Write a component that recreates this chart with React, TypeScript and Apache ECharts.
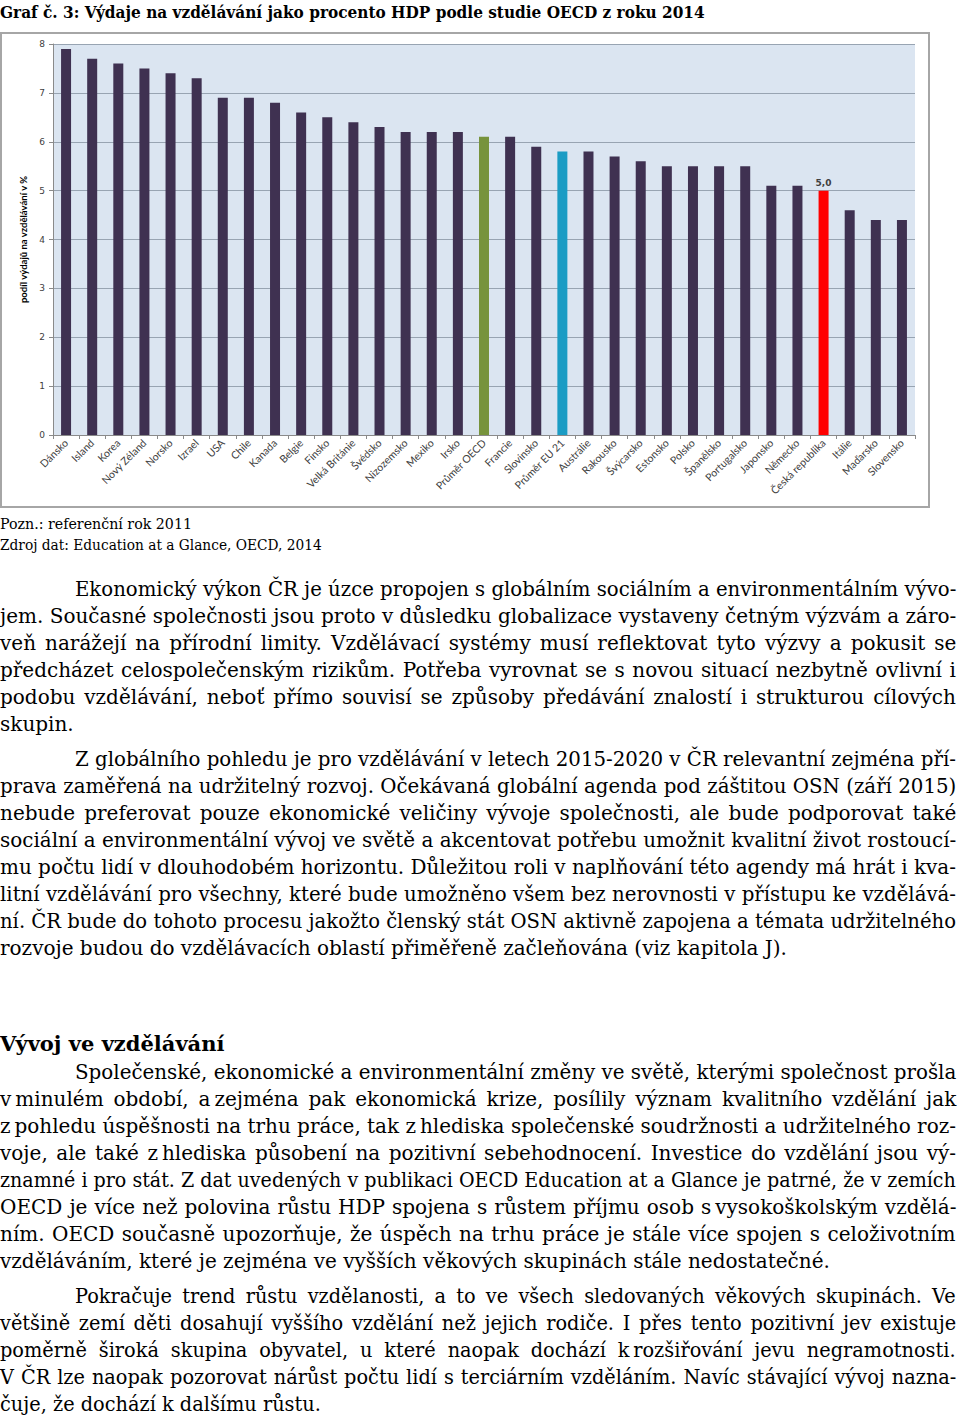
import React, { useEffect, useLayoutEffect, useRef } from "react";
import * as echarts from "echarts";

// ---------- data ----------
const categories = [
  "Dánsko", "Island", "Korea", "Nový Zéland", "Norsko", "Izrael", "USA", "Chile",
  "Kanada", "Belgie", "Finsko", "Velká Británie", "Švédsko", "Nizozemsko", "Mexiko",
  "Irsko", "Průměr OECD", "Francie", "Slovinsko", "Průměr EU 21", "Austrálie",
  "Rakousko", "Švýcarsko", "Estonsko", "Polsko", "Španělsko", "Portugalsko",
  "Japonsko", "Německo", "Česká republika", "Itálie", "Maďarsko", "Slovensko",
];
const values = [
  7.9, 7.7, 7.6, 7.5, 7.4, 7.3, 6.9, 6.9, 6.8, 6.6, 6.5, 6.4, 6.3, 6.2, 6.2,
  6.2, 6.1, 6.1, 5.9, 5.8, 5.8, 5.7, 5.6, 5.5, 5.5, 5.5, 5.5, 5.1, 5.1, 5.0,
  4.6, 4.4, 4.4,
];
const yMin = 0;
const yMax = 8;
const yStep = 1;
const yAxisTitle = "podíl výdajů na vzdělávání v %";
const labelledCategory = "Česká republika";
const highlightColors: Record<string, string> = {
  "Průměr OECD": "#77933c",
  "Průměr EU 21": "#1b9cc4",
  "Česká republika": "#ff0000",
};
const baseColor = "#3f3151";

const titleText = "Graf č. 3: Výdaje na vzdělávání jako procento HDP podle studie OECD z roku 2014";
const note1 = "Pozn.: referenční rok 2011";
const note2 = "Zdroj dat: Education at a Glance, OECD, 2014";

const T = "\u2009"; // thin fixed space
const para1 = [
  "Ekonomický výkon ČR je úzce propojen s globálním sociálním a environmentálním vývo-",
  "jem. Současné společnosti jsou proto v důsledku globalizace vystaveny četným výzvám a záro-",
  "veň narážejí na přírodní limity. Vzdělávací systémy musí reflektovat tyto výzvy a pokusit se",
  "předcházet celospolečenským rizikům. Potřeba vyrovnat se s novou situací nezbytně ovlivní i",
  "podobu vzdělávání, neboť přímo souvisí se způsoby předávání znalostí i strukturou cílových",
  "skupin.",
];
const para2 = [
  "Z globálního pohledu je pro vzdělávání v letech 2015-2020 v ČR relevantní zejména pří-",
  "prava zaměřená na udržitelný rozvoj. Očekávaná globální agenda pod záštitou OSN (září 2015)",
  "nebude preferovat pouze ekonomické veličiny vývoje společnosti, ale bude podporovat také",
  "sociální a environmentální vývoj ve světě a akcentovat potřebu umožnit kvalitní život rostoucí-",
  "mu počtu lidí v dlouhodobém horizontu. Důležitou roli v naplňování této agendy má hrát i kva-",
  "litní vzdělávání pro všechny, které bude umožněno všem bez nerovnosti v přístupu ke vzdělává-",
  "ní. ČR bude do tohoto procesu jakožto členský stát OSN aktivně zapojena a témata udržitelného",
  "rozvoje budou do vzdělávacích oblastí přiměřeně začleňována (viz kapitola J).",
];
const heading = "Vývoj ve vzdělávání";
const para3 = [
  "Společenské, ekonomické a environmentální změny ve světě, kterými společnost prošla",
  `v${T}minulém období, a${T}zejména pak ekonomická krize, posílily význam kvalitního vzdělání jak`,
  `z${T}pohledu úspěšnosti na trhu práce, tak z${T}hlediska společenské soudržnosti a udržitelného roz-`,
  `voje, ale také z${T}hlediska působení na pozitivní sebehodnocení. Investice do vzdělání jsou vý-`,
  "znamné i pro stát. Z dat uvedených v publikaci OECD Education at a Glance je patrné, že v zemích",
  `OECD je více než polovina růstu HDP spojena s růstem příjmu osob s${T}vysokoškolským vzdělá-`,
  "ním. OECD současně upozorňuje, že úspěch na trhu práce je stále více spojen s celoživotním",
  "vzděláváním, které je zejména ve vyšších věkových skupinách stále nedostatečné.",
];
const para4 = [
  "Pokračuje trend růstu vzdělanosti, a to ve všech sledovaných věkových skupinách. Ve",
  "většině zemí děti dosahují vyššího vzdělání než jejich rodiče. I přes tento pozitivní jev existuje",
  `poměrně široká skupina obyvatel, u které naopak dochází k${T}rozšiřování jevu negramotnosti.`,
  "V ČR lze naopak pozorovat nárůst počtu lidí s terciárním vzděláním. Navíc stávající vývoj nazna-",
  "čuje, že dochází k dalšímu růstu.",
];

// ---------- layout helpers ----------
const SERIF = "'DejaVu Serif', 'Liberation Serif', serif";
const RIGHT = 956;
const INDENT = 75;

type LineProps = {
  x: number;
  y: number; // top of line box
  w: number;
  text: string;
  size: number;
  lh: number;
  weight?: string;
  family?: string;
  justify?: boolean;
  sx?: number;
};

function TextLine({ x, y, w, text, size, lh, weight = "normal", family = SERIF, justify = false, sx = 1 }: LineProps) {
  const ref = useRef<HTMLSpanElement>(null);
  useLayoutEffect(() => {
    const fit = () => {
      const el = ref.current;
      if (!el) return;
      el.style.wordSpacing = "0px";
      el.style.transform = "none";
      const natural = el.offsetWidth;
      const target = w / sx;
      let extra = 1;
      if (justify) {
        const spaces = (text.match(/ /g) || []).length;
        const ws = spaces > 0 ? (target - natural) / spaces : 0;
        if (ws >= 0) el.style.wordSpacing = ws + "px";
        else extra = target / natural;
      } else if (natural > target) {
        extra = target / natural;
      }
      el.style.transform = `scaleX(${sx * extra})`;
    };
    fit();
    if ((document as any).fonts && (document as any).fonts.ready) {
      (document as any).fonts.ready.then(fit);
    }
  }, [text, w, sx, justify]);
  return (
    <span
      ref={ref}
      style={{
        position: "absolute",
        left: x,
        top: y,
        display: "inline-block",
        whiteSpace: "pre",
        fontFamily: family,
        fontSize: size,
        fontWeight: weight as any,
        lineHeight: lh + "px",
        height: lh,
        color: "#000",
        transformOrigin: "0 0",
      }}
    >
      {text}
    </span>
  );
}

function Paragraph({ lines, top, step, size, sx = 1 }: { lines: string[]; top: number; step: number; size: number; sx?: number }) {
  return (
    <>
      {lines.map((t, i) => {
        const first = i === 0;
        const last = i === lines.length - 1;
        const x = first ? INDENT : 0;
        return (
          <TextLine
            key={i}
            x={x}
            y={top + i * step}
            w={RIGHT - x}
            text={t}
            size={size}
            lh={step}
            justify={!last}
            sx={sx}
          />
        );
      })}
    </>
  );
}

function Chart() {
  const ref = useRef<HTMLDivElement>(null);
  useEffect(() => {
    if (!ref.current) return;
    const chart = echarts.init(ref.current, undefined, { renderer: "svg" });
    const data = values.map((v, i) => {
      const name = categories[i];
      const item: any = { value: v, itemStyle: { color: highlightColors[name] || baseColor } };
      if (name === labelledCategory) {
        item.label = {
          show: true,
          position: "top",
          distance: 3,
          formatter: v.toFixed(1).replace(".", ","),
          fontSize: 9,
          fontWeight: "bold",
          color: "#404040",
          fontFamily: "'DejaVu Sans', sans-serif",
        };
      }
      return item;
    });
    chart.setOption({
      animation: false,
      grid: {
        left: 51,
        right: 13,
        top: 10,
        bottom: 71,
        show: true,
        backgroundColor: "#dbe5f1",
        borderWidth: 0,
      },
      xAxis: {
        type: "category",
        data: categories,
        axisLine: { show: true, lineStyle: { color: "#8a8a8a", width: 1 } },
        axisTick: { show: true, length: 4, lineStyle: { color: "#8a8a8a" } },
        axisLabel: {
          rotate: 45,
          interval: 0,
          fontSize: 10.5,
          color: "#404040",
          fontFamily: "Lato, 'Open Sans', sans-serif",
          margin: 6,
        },
      },
      yAxis: {
        type: "value",
        min: yMin,
        max: yMax,
        interval: yStep,
        name: yAxisTitle,
        nameLocation: "middle",
        nameGap: 20,
        nameRotate: 90,
        nameTextStyle: {
          fontSize: 9.5,
          fontWeight: "bold",
          color: "#000",
          fontFamily: "Lato, 'Open Sans', sans-serif",
        },
        axisLine: { show: true, lineStyle: { color: "#8a8a8a" } },
        axisTick: { show: true, length: 4, lineStyle: { color: "#8a8a8a" } },
        axisLabel: {
          fontSize: 9,
          color: "#404040",
          fontFamily: "'DejaVu Sans', sans-serif",
          margin: 8,
        },
        splitLine: { show: true, lineStyle: { color: "#98a4b2", width: 1 } },
      },
      series: [
        {
          type: "bar",
          data,
          barWidth: 10,
        },
      ],
    });
    return () => chart.dispose();
  }, []);
  return <div ref={ref} style={{ width: "100%", height: "100%" }} />;
}

export default function App() {
  useEffect(() => {
    document.body.style.margin = "0";
    document.body.style.background = "#fff";
  }, []);
  return (
    <div style={{ position: "relative", width: 960, height: 1418, overflow: "hidden", background: "#fff" }}>
      <TextLine x={0} y={1} w={705} text={titleText} size={17} lh={22} weight="bold" />
      <div
        style={{
          position: "absolute",
          left: 0,
          top: 32,
          width: 930,
          height: 476,
          border: "2px solid #a6a6a6",
          boxSizing: "border-box",
          background: "#fff",
        }}
      >
        <Chart />
      </div>
      <TextLine x={0} y={514} w={192} text={note1} size={14.5} lh={20} />
      <TextLine x={0} y={535} w={322} text={note2} size={14.5} lh={20} />
      <Paragraph lines={para1} top={576} step={27} size={20} />
      <Paragraph lines={para2} top={746} step={27} size={20} />
      <TextLine x={0} y={1030} w={228} text={heading} size={21} lh={28} weight="bold" />
      <Paragraph lines={para3} top={1059} step={27} size={20} />
      <Paragraph lines={para4} top={1283} step={27} size={21} sx={0.92} />
    </div>
  );
}
